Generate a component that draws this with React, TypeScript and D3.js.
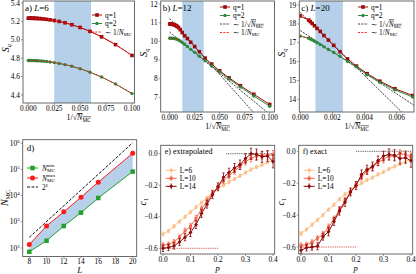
import React from 'react';
import * as d3 from 'd3';

const W = 416, H = 274;
const FONT = "'Liberation Serif', 'DejaVu Serif', serif";
const FRAME = '#5a5a5a';
const RED_Q1 = '#9b0b0b', GREEN_Q2 = '#2b8a3c', BAND = '#b5d0e8';

// ---- panels a-c : S_q vs 1/sqrt(N_MC)
const xAB = [0, 0.001, 0.002, 0.003, 0.004, 0.005, 0.0063, 0.0074, 0.0088, 0.0105, 0.0125, 0.0149, 0.0177, 0.021, 0.025, 0.0297, 0.0354, 0.042, 0.05, 0.0595, 0.0707, 0.0841, 0.1];
const aQ1 = [5.235, 5.235, 5.235, 5.234, 5.234, 5.234, 5.233, 5.233, 5.232, 5.231, 5.229, 5.226, 5.222, 5.217, 5.21, 5.2, 5.185, 5.164, 5.134, 5.092, 5.032, 4.948, 4.83];
const aQ2 = [4.775, 4.775, 4.775, 4.775, 4.774, 4.774, 4.774, 4.773, 4.772, 4.771, 4.769, 4.767, 4.764, 4.759, 4.752, 4.743, 4.73, 4.712, 4.685, 4.648, 4.595, 4.52, 4.415];
const bQ1 = [10.93, 10.93, 10.92, 10.91, 10.9, 10.88, 10.84, 10.8, 10.74, 10.63, 10.47, 10.3, 10.15, 9.95, 9.72, 9.44, 9.1, 8.78, 8.42, 8.04, 7.62, 7.16, 6.62];
const bQ2 = [10.17, 10.17, 10.17, 10.16, 10.16, 10.15, 10.13, 10.11, 10.07, 10.02, 9.94, 9.84, 9.72, 9.57, 9.41, 9.2, 8.96, 8.68, 8.36, 7.98, 7.55, 7.07, 6.52];
const bFit1 = [[0, 11.22], [0.0843, 6.16]];
const bFit2 = [[0, 10.49], [0.0984, 6.16]];
const xC = [0, 0.00052, 0.00062, 0.00074, 0.00088, 0.00104, 0.00124, 0.00147, 0.00175, 0.00208, 0.00247, 0.00294, 0.0035, 0.00416, 0.00495, 0.00589, 0.007];
const cQ1 = [18.42, 18.2, 18.12, 18.02, 17.9, 17.76, 17.6, 17.38, 17.14, 16.86, 16.52, 16.14, 15.76, 15.36, 14.96, 14.56, 14.2];
const cQ2 = [17.35, 17.24, 17.2, 17.15, 17.08, 17.0, 16.9, 16.78, 16.64, 16.48, 16.28, 16.02, 15.72, 15.3, 14.9, 14.5, 14.12];
const cFit1 = [[0, 18.6], [0.0065, 13.17]];
const cFit2 = [[0, 17.65], [0.0071, 13.67]];
const bands = { a: [0.025, 0.0605], b: [0.0126, 0.034], c: [0.00094, 0.00265] };

const aXTicks = [0, 0.025, 0.05, 0.075, 0.1];
const aYTicks = [4.4, 4.6, 4.8, 5.0, 5.2, 5.4];
const bYTicks = [7, 8, 9, 10, 11, 12];
const cXTicks = [0, 0.002, 0.004, 0.006];
const cYTicks = [14, 15, 16, 17, 18, 19];

// ---- panel d
const dL = [8, 10, 12, 14, 16, 20];
const dMin = [72, 190, 690, 2240, 8100, 83000];
const dMax = [135, 700, 2400, 8700, 32600, 415000];
const twoL = [[8, 256], [20, 1048576]];
const dXTicks = [8, 10, 12, 14, 16, 18, 20];
const dYExp = [2, 3, 4, 5, 6];

// ---- panels e, f : c_1 vs p
const pVals = [0, 0.02, 0.04, 0.06, 0.08, 0.1, 0.12, 0.14, 0.16, 0.18, 0.2, 0.22, 0.24, 0.26, 0.28, 0.3, 0.32, 0.34, 0.36, 0.38, 0.4];
const eL6 = [-0.51, -0.49, -0.46, -0.43, -0.4, -0.37, -0.34, -0.31, -0.28, -0.25, -0.22, -0.2, -0.18, -0.16, -0.14, -0.12, -0.1, -0.085, -0.07, -0.055, -0.04];
const eL10 = [-0.58, -0.575, -0.56, -0.53, -0.49, -0.46, -0.41, -0.35, -0.3, -0.25, -0.21, -0.17, -0.14, -0.11, -0.08, -0.05, -0.03, -0.015, -0.01, -0.01, -0.005];
const eL14 = [-0.6, -0.595, -0.585, -0.56, -0.53, -0.5, -0.45, -0.38, -0.32, -0.26, -0.21, -0.15, -0.12, -0.09, -0.07, -0.03, 0.0, -0.005, -0.02, -0.015, -0.05];
const fL6 = [-0.515, -0.49, -0.46, -0.43, -0.4, -0.365, -0.335, -0.3, -0.27, -0.245, -0.22, -0.2, -0.18, -0.165, -0.145, -0.13, -0.11, -0.095, -0.08, -0.065, -0.05];
const fL10 = [-0.59, -0.585, -0.57, -0.545, -0.52, -0.475, -0.425, -0.365, -0.31, -0.255, -0.21, -0.16, -0.125, -0.1, -0.07, -0.05, -0.03, -0.03, -0.015, -0.02, -0.035];
const fL14 = [-0.62, -0.605, -0.6, -0.595, -0.535, -0.505, -0.44, -0.375, -0.32, -0.255, -0.215, -0.145, -0.115, -0.095, -0.06, -0.03, -0.02, -0.025, -0.045, -0.04, -0.06];
const err6 = [0.012, 0.01, 0.01, 0.01, 0.01, 0.01, 0.01, 0.01, 0.01, 0.01, 0.01, 0.01, 0.01, 0.01, 0.01, 0.01, 0.01, 0.01, 0.01, 0.01, 0.012];
const err10 = [0.015, 0.015, 0.015, 0.015, 0.018, 0.018, 0.018, 0.018, 0.018, 0.018, 0.018, 0.02, 0.02, 0.02, 0.02, 0.022, 0.022, 0.025, 0.025, 0.025, 0.025];
const err14 = [0.02, 0.02, 0.02, 0.022, 0.022, 0.025, 0.025, 0.025, 0.025, 0.025, 0.025, 0.028, 0.028, 0.028, 0.03, 0.03, 0.035, 0.035, 0.035, 0.035, 0.04];
const eXTicks = [0, 0.1, 0.2, 0.3, 0.4];
const eYTicks = [0, -0.2, -0.4, -0.6];
const C6 = '#fdbd85', C10 = '#f2674c', C14 = '#8e0a0a';

function Axes({ box, x, y, xTicks, yTicks, xFmt, yLab, id, children }) {
  const [l, r, t, b] = box;
  return (
    <g>
      <defs><clipPath id={id}><rect x={l} y={t} width={r - l} height={b - t} /></clipPath></defs>
      <g clipPath={`url(#${id})`}>{children}</g>
      <rect x={l} y={t} width={r - l} height={b - t} fill="none" stroke={FRAME} strokeWidth={0.9} />
      {xTicks.map((v, i) => (
        <g key={'x' + i}>
          <line x1={x(v)} x2={x(v)} y1={b} y2={b + 2} stroke={FRAME} strokeWidth={0.6} />
          <text x={x(v)} y={b + 7.8} fontSize={7.4} textAnchor="middle">{xFmt(v)}</text>
        </g>
      ))}
      {yTicks.map((v, i) => (
        <g key={'y' + i}>
          <line x1={l - 2} x2={l} y1={y(v)} y2={y(v)} stroke={FRAME} strokeWidth={0.6} />
          <text x={l - 3} y={y(v) + 2.5} fontSize={7.4} textAnchor="end">{yLab(v)}</text>
        </g>
      ))}
    </g>
  );
}

const sqMark = (cx, cy, s, fill, k) => <rect key={k} x={cx - s / 2} y={cy - s / 2} width={s} height={s} fill={fill} />;
const ptMark = (cx, cy, r, fill, k) => <circle key={k} cx={cx} cy={cy} r={r} fill={fill} />;
const diaMark = (cx, cy, s, fill, k) => <path key={k} d={`M${cx},${cy - s}L${cx + s},${cy}L${cx},${cy + s}L${cx - s},${cy}Z`} fill={fill} />;

const NmcLabel = ({ x, y }) => (
  <text x={x} y={y} fontSize={8} textAnchor="middle">
    1/√<tspan fontStyle="italic" textDecoration="overline">N</tspan>
    <tspan fontSize={5.5} dy={1.6} textDecoration="overline">MC</tspan>
  </text>
);

const SqLabel = ({ x, y }) => (
  <text transform={`translate(${x},${y}) rotate(-90)`} fontSize={10} textAnchor="middle">
    <tspan fontStyle="italic">S</tspan><tspan fontSize={6.5} dy={2} fontStyle="italic">q</tspan>
  </text>
);

function SPanel({ id, box, xDom, xRng, yDom, yRng, xTicks, yTicks, xFmt, yFmt, xs, q1, q2, band, fits, nDash, title, Lval, legend }) {
  const x = d3.scaleLinear().domain(xDom).range(xRng);
  const y = d3.scaleLinear().domain(yDom).range(yRng);
  const line = d3.line().x(d => x(d[0])).y(d => y(d[1]));
  const s1 = xs.map((v, i) => [v, q1[i]]);
  const s2 = xs.map((v, i) => [v, q2[i]]);
  const [l, r, t, b] = box;
  const lx = legend.x;
  return (
    <g>
      <Axes box={box} x={x} y={y} xTicks={xTicks} yTicks={yTicks} xFmt={xFmt} yLab={yFmt} id={id}>
        <rect x={x(band[0])} y={t} width={x(band[1]) - x(band[0])} height={b - t} fill={BAND} />
        {fits.map((f, i) => <path key={i} d={line(f)} fill="none" stroke="#111" strokeWidth={0.8} strokeDasharray="2,1.2" />)}
        <path d={line(s1)} fill="none" stroke={RED_Q1} strokeWidth={1} />
        <path d={line(s2)} fill="none" stroke={GREEN_Q2} strokeWidth={1} />
        {s1.map((d, i) => sqMark(x(d[0]), y(d[1]), 3.6, RED_Q1, 'a' + i))}
        {s2.map((d, i) => ptMark(x(d[0]), y(d[1]), 1.7, GREEN_Q2, 'b' + i))}
        <path d={line(s1.slice(0, nDash))} fill="none" stroke="#ff1010" strokeWidth={0.9} strokeDasharray="2,1.3" />
        <path d={line(s2.slice(0, nDash))} fill="none" stroke="#ff1010" strokeWidth={0.9} strokeDasharray="2,1.3" />
      </Axes>
      <text x={l + 2} y={t + 10} fontSize={9}>{title}) <tspan fontStyle="italic">L</tspan>={Lval}</text>
      <g fontSize={7.4}>
        <line x1={lx} x2={lx + 10} y1={legend.y} y2={legend.y} stroke={RED_Q1} />
        {sqMark(lx + 5, legend.y, 3.6, RED_Q1, 'l1')}
        <text x={lx + 13} y={legend.y + 2.5}>q=1</text>
        <line x1={lx} x2={lx + 10} y1={legend.y + 8.5} y2={legend.y + 8.5} stroke={GREEN_Q2} />
        {ptMark(lx + 5, legend.y + 8.5, 1.7, GREEN_Q2, 'l2')}
        <text x={lx + 13} y={legend.y + 11}>q=2</text>
        {fits.length > 0 && (
          <g>
            <line x1={lx} x2={lx + 10} y1={legend.y + 17} y2={legend.y + 17} stroke="#111" strokeWidth={0.8} strokeDasharray="2,1.2" />
            <text x={lx + 13} y={legend.y + 19.5}>∼ 1/√<tspan fontStyle="italic" textDecoration="overline">N</tspan><tspan fontSize={5} dy={1.4} textDecoration="overline">MC</tspan></text>
          </g>
        )}
        <line x1={lx} x2={lx + 10} y1={legend.y + (fits.length ? 25.5 : 17)} y2={legend.y + (fits.length ? 25.5 : 17)} stroke="#ff1010" strokeWidth={0.9} strokeDasharray="2,1.3" />
        <text x={lx + 13} y={legend.y + (fits.length ? 28 : 19.5)}>∼ 1/<tspan fontStyle="italic">N</tspan><tspan fontSize={5} dy={1.4}>MC</tspan></text>
      </g>
      <SqLabel x={l - 14} y={(t + b) / 2 - 4} />
      <NmcLabel x={(l + r) / 2} y={b + 17} />
    </g>
  );
}

function DPanel() {
  const box = [22.7, 136.7, 139.7, 256.5];
  const x = d3.scaleLinear().domain([8, 20]).range([29.3, 132.7]);
  const y = d3.scaleLog().domain([1e2, 1e6]).range([248, 143.3]);
  const gMin = dL.map((L, i) => [L, dMin[i]]);
  const gMax = dL.map((L, i) => [L, dMax[i]]);
  const line = d3.line().x(d => x(d[0])).y(d => y(d[1]));
  const area = d3.area().x(d => x(d[0])).y0((d, i) => y(dMin[i])).y1(d => y(d[1]));
  const [l, r, t, b] = box;
  return (
    <g>
      <Axes box={box} x={x} y={y} xTicks={dXTicks} yTicks={dYExp.map(e => Math.pow(10, e))} xFmt={v => v}
        yLab={v => <>10<tspan fontSize={5} dy={-3}>{Math.round(Math.log10(v))}</tspan></>} id="clipd">
        <path d={area(gMax)} fill={BAND} />
        <path d={line(twoL)} fill="none" stroke="#111" strokeWidth={1} strokeDasharray="3,1.5" />
        <path d={line(gMin)} fill="none" stroke="#22a02a" strokeWidth={1} />
        <path d={line(gMax)} fill="none" stroke="#ff1a1a" strokeWidth={1} />
        {gMin.map((d, i) => sqMark(x(d[0]), y(d[1]), 4.5, '#22a02a', 'm' + i))}
        {gMax.map((d, i) => ptMark(x(d[0]), y(d[1]), 2.5, '#ff1a1a', 'n' + i))}
      </Axes>
      <text x={l + 4} y={t + 11} fontSize={9}>d)</text>
      <g fontSize={7.4}>
        <line x1={27} x2={38} y1={168} y2={168} stroke="#22a02a" />
        {sqMark(32.5, 168, 4.5, '#22a02a', 'lg1')}
        <text x={42} y={170.5}><tspan fontStyle="italic">N</tspan><tspan fontSize={5} dy={1.6}>MC</tspan><tspan fontSize={5} dx={-8} dy={-5}>min</tspan></text>
        <line x1={27} x2={38} y1={178} y2={178} stroke="#ff1a1a" />
        {ptMark(32.5, 178, 2.5, '#ff1a1a', 'lg2')}
        <text x={42} y={180.5}><tspan fontStyle="italic">N</tspan><tspan fontSize={5} dy={1.6}>MC</tspan><tspan fontSize={5} dx={-8} dy={-5}>max</tspan></text>
        <line x1={27} x2={38} y1={187} y2={187} stroke="#111" strokeDasharray="3,1.5" />
        <text x={42} y={189.5}>2<tspan fontSize={5} dy={-3} fontStyle="italic">L</tspan></text>
      </g>
      <text transform={`translate(${l - 15},${(t + b) / 2}) rotate(-90)`} fontSize={10} textAnchor="middle">
        <tspan fontStyle="italic">N</tspan><tspan fontSize={6} dy={2}>MC</tspan>
      </text>
      <text x={(l + r) / 2} y={273} fontSize={9} fontStyle="italic" textAnchor="middle">L</text>
    </g>
  );
}

function CPanel({ id, box, yZero, yMin, title, series, topLine }) {
  const [l, r, t, b] = box;
  const x = d3.scaleLinear().domain([0, 0.4]).range([l + 2.3, l + 112.3]);
  const y = d3.scaleLinear().domain([0, -0.6]).range([yZero, yMin]);
  const line = d3.line().x(d => x(d[0])).y(d => y(d[1]));
  const mk = [(cx, cy, c, k) => ptMark(cx, cy, 1.5, c, k), (cx, cy, c, k) => sqMark(cx, cy, 3, c, k), (cx, cy, c, k) => diaMark(cx, cy, 2, c, k)];
  const names = ['6', '10', '14'];
  return (
    <g>
      <Axes box={box} x={x} y={y} xTicks={eXTicks} yTicks={eYTicks} xFmt={v => (v === 0 ? '0.0' : String(v))}
        yLab={v => (v === 0 ? '0.0' : '−' + Math.abs(v).toFixed(1))} id={id}>
        <path d={line([[topLine, 0], [0.42, 0]])} stroke="#333" strokeWidth={0.8} strokeDasharray="1,0.8" fill="none" />
        <path d={line([[0, -0.6], [0.2, -0.6]])} stroke="#c0392b" strokeWidth={0.8} strokeDasharray="1,0.8" fill="none" />
        {series.map((s, si) => {
          const pts = pVals.map((p, i) => [p, s.v[i]]);
          return (
            <g key={si}>
              <path d={line(pts)} fill="none" stroke={s.c} strokeWidth={1} />
              {pts.map((d, i) => (
                <g key={i} stroke={s.c} strokeWidth={0.8}>
                  <line x1={x(d[0])} x2={x(d[0])} y1={y(d[1] - s.e[i])} y2={y(d[1] + s.e[i])} />
                  <line x1={x(d[0]) - 1.2} x2={x(d[0]) + 1.2} y1={y(d[1] - s.e[i])} y2={y(d[1] - s.e[i])} />
                  <line x1={x(d[0]) - 1.2} x2={x(d[0]) + 1.2} y1={y(d[1] + s.e[i])} y2={y(d[1] + s.e[i])} />
                </g>
              ))}
              {pts.map((d, i) => mk[si](x(d[0]), y(d[1]), s.c, 'm' + i))}
            </g>
          );
        })}
      </Axes>
      <text x={l + 4} y={t + 9} fontSize={8}>{title}</text>
      <g fontSize={7.4}>
        {series.map((s, si) => {
          const ly = t + 25 + si * 8;
          return (
            <g key={si}>
              <line x1={l + 5} x2={l + 16} y1={ly} y2={ly} stroke={s.c} />
              <line x1={l + 10.5} x2={l + 10.5} y1={ly - 3} y2={ly + 3} stroke={s.c} strokeWidth={0.8} />
              {mk[si](l + 10.5, ly, s.c, 'lg')}
              <text x={l + 19} y={ly + 2.5}>L=<tspan>{names[si]}</tspan></text>
            </g>
          );
        })}
      </g>
      <text transform={`translate(${l - 15},${(t + b) / 2 + 2}) rotate(-90)`} fontSize={10} textAnchor="middle">
        <tspan fontStyle="italic">c</tspan><tspan fontSize={6.5} dy={2}>1</tspan>
      </text>
      <text x={(l + r) / 2} y={270.5} fontSize={8.5} fontStyle="italic" textAnchor="middle">p</text>
    </g>
  );
}

export default function App() {
  const f3 = v => v.toFixed(3);
  return (
    <svg width={W} height={H} viewBox={`0 0 ${W} ${H}`} fontFamily={FONT} style={{ display: 'block', position: 'absolute', left: 0, top: 0 }}>
      <rect width={W} height={H} fill="#fff" />
      <SPanel id="ca" box={[23, 134.5, 1, 103]} xDom={[0, 0.1]} xRng={[28.3, 132]} yDom={[4.4, 5.4]} yRng={[95, 3]}
        xTicks={aXTicks} yTicks={aYTicks} xFmt={f3} yFmt={v => v.toFixed(1)} xs={xAB} q1={aQ1} q2={aQ2}
        band={bands.a} fits={[]} nDash={xAB.length} title="a" Lval="6" legend={{ x: 92, y: 15 }} />
      <SPanel id="cb" box={[160.7, 274.5, 1, 112]} xDom={[0, 0.1]} xRng={[169.7, 269.7]} yDom={[7, 12]} yRng={[97.3, 4]}
        xTicks={aXTicks} yTicks={bYTicks} xFmt={f3} yFmt={v => v} xs={xAB} q1={bQ1} q2={bQ2}
        band={bands.b} fits={[bFit1, bFit2]} nDash={10} title="b" Lval="12" legend={{ x: 220, y: 7 }} />
      <SPanel id="cc" box={[299.3, 414, 1, 112]} xDom={[0, 0.006]} xRng={[300.3, 396.7]} yDom={[14, 19]} yRng={[99.3, 5]}
        xTicks={cXTicks} yTicks={cYTicks} xFmt={f3} yFmt={v => v} xs={xC} q1={cQ1} q2={cQ2}
        band={bands.c} fits={[cFit1, cFit2]} nDash={3} title="c" Lval="20" legend={{ x: 358, y: 7 }} />
      <DPanel />
      <CPanel id="ce" box={[160.7, 274.7, 145.3, 254]} yZero={153.7} yMin={248.3} title="e) extrapolated" topLine={0.23}
        series={[{ v: eL6, e: err6, c: C6 }, { v: eL10, e: err10, c: C10 }, { v: eL14, e: err14, c: C14 }]} />
      <CPanel id="cf" box={[298.7, 412.7, 145.3, 254]} yZero={151.3} yMin={247} title="f) exact" topLine={0.2}
        series={[{ v: fL6, e: err6, c: C6 }, { v: fL10, e: err10, c: C10 }, { v: fL14, e: err14, c: C14 }]} />
    </svg>
  );
}
